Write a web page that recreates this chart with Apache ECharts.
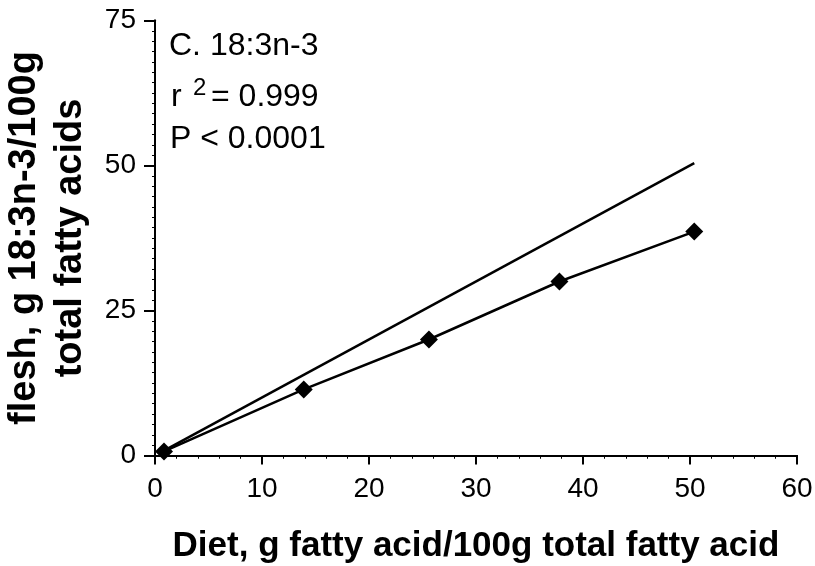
<!DOCTYPE html>
<html>
<head>
<meta charset="utf-8">
<script src="https://cdn.jsdelivr.net/npm/echarts@6/dist/echarts.min.js"></script>
<style>html,body{margin:0;padding:0;background:#fff}#c{width:815px;height:566px}</style>
</head>
<body>
<div id="c"></div>
<script>
var dietX = [0.84, 13.9, 25.6, 37.8, 50.4];
var fleshY = [0.7, 11.4, 20.0, 30.0, 38.6];
var identityX = [0.84, 50.4];
var identityY = [0.84, 50.4];
var panelLabel = 'C. 18:3n-3';
var rLabel = 'r';
var rSup = '2';
var rValue = '= 0.999';
var pLabel = 'P < 0.0001';
var xTitle = 'Diet, g fatty acid/100g total fatty acid';
var yTitle = 'flesh, g 18:3n-3/100g\ntotal fatty acids';

var font = 'Liberation Sans, Arial, sans-serif';
var chart = echarts.init(document.getElementById('c'));
function pairs(xs, ys){ return xs.map(function(x,i){return [x, ys[i]];}); }
var axisLine = {show:true, lineStyle:{color:'#000', width:2}};
function txt(s, x, y, size){
  return {type:'text', x:x, y:y, style:{text:s, fontSize:size, fontFamily:font, fill:'#000', verticalAlign:'middle', align:'left'}};
}
chart.setOption({
  animation:false,
  backgroundColor:'#fff',
  grid:{left:155, right:18, top:20.5, bottom:110.5, containLabel:false, outerBoundsMode:'none'},
  xAxis:[{
    type:'value', min:0, max:60, interval:10, position:'bottom',
    axisLine:axisLine,
    axisTick:{show:true, length:9, lineStyle:{color:'#000', width:2}},
    minorTick:{show:true, splitNumber:5, length:3, lineStyle:{color:'#000', width:1}},
    axisLabel:{color:'#000', fontSize:28, fontFamily:font, margin:20},
    splitLine:{show:false},
    name:xTitle, nameLocation:'middle', nameGap:73,
    nameTextStyle:{color:'#000', fontSize:35, fontWeight:'bold', fontFamily:font}
  },{
    type:'value', min:0, max:60, interval:10, position:'top',
    axisLine:axisLine,
    axisTick:{show:true, inside:true, length:3, lineStyle:{color:'#000', width:1}},
    minorTick:{show:true, splitNumber:5, length:3, lineStyle:{color:'#000', width:1}},
    axisLabel:{show:false}, splitLine:{show:false}
  }],
  yAxis:[{
    type:'value', min:0, max:75, interval:25, position:'left',
    axisLine:axisLine,
    axisTick:{show:true, length:11, lineStyle:{color:'#000', width:2}},
    minorTick:{show:true, splitNumber:14, length:3, lineStyle:{color:'#000', width:1}},
    axisLabel:{color:'#000', fontSize:28, fontFamily:font, margin:19},
    splitLine:{show:false},
    name:yTitle, nameLocation:'middle', nameGap:61, nameRotate:90,
    nameTextStyle:{color:'#000', fontSize:38, fontWeight:'bold', fontFamily:font, lineHeight:46, align:'center'}
  },{
    type:'value', min:0, max:75, interval:25, position:'right',
    axisLine:axisLine,
    axisTick:{show:true, inside:true, length:3, lineStyle:{color:'#000', width:1}},
    minorTick:{show:true, splitNumber:7, length:3, lineStyle:{color:'#000', width:1}},
    axisLabel:{show:false}, splitLine:{show:false}
  }],
  graphic:[
    txt(panelLabel, 169, 46.5, 32),
    txt(rLabel, 171, 97, 32),
    txt(rSup, 193, 88.5, 24),
    txt(rValue, 211, 97, 32),
    txt(pLabel, 170, 139.5, 32)
  ],
  series:[{
    type:'line', xAxisIndex:0, yAxisIndex:0,
    data:pairs(identityX, identityY),
    showSymbol:false, symbol:'none',
    lineStyle:{color:'#000', width:2.5}
  },{
    type:'line', xAxisIndex:0, yAxisIndex:0,
    data:pairs(dietX, fleshY),
    symbol:'diamond', symbolSize:18, showSymbol:true,
    itemStyle:{color:'#000'},
    lineStyle:{color:'#000', width:2.5}
  }]
});
</script>
</body>
</html>
